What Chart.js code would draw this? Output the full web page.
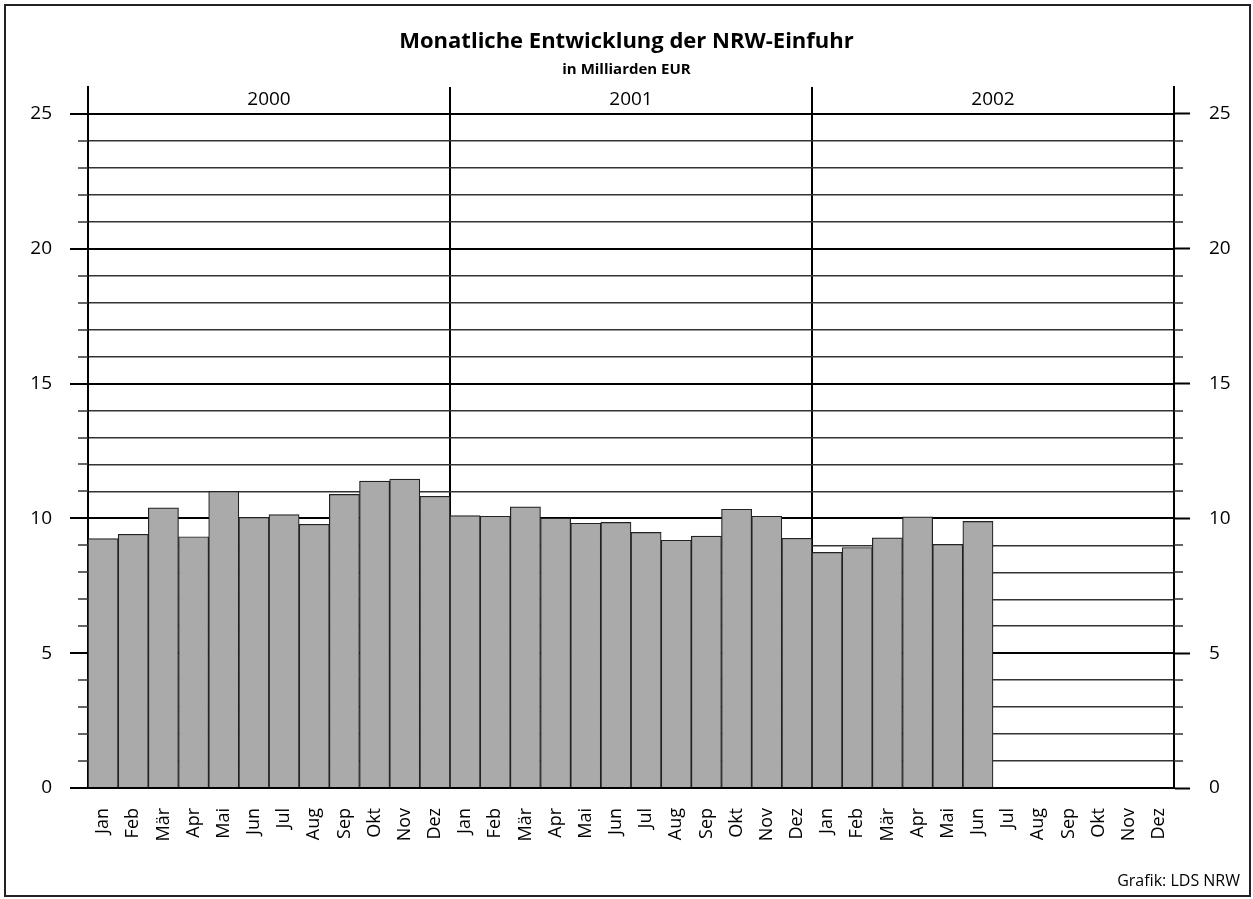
<!DOCTYPE html>
<html>
<head>
<meta charset="utf-8">
<script src="https://cdn.jsdelivr.net/npm/chart.js@4/dist/chart.umd.min.js"></script>
<style>
  html, body { margin: 0; padding: 0; background: #fff; }
  #wrap { position: relative; width: 1253px; height: 899px; }
</style>
</head>
<body>
<div id="wrap"><canvas id="barChart"></canvas></div>
<script>
// data
var months = ["Jan", "Feb", "Mär", "Apr", "Mai", "Jun", "Jul", "Aug", "Sep", "Okt", "Nov", "Dez"];
var years = ["2000", "2001", "2002"];
var values2000 = [9.25, 9.41, 10.39, 9.32, 11.0, 10.04, 10.14, 9.78, 10.89, 11.38, 11.46, 10.82];
var values2001 = [10.1, 10.08, 10.43, 10.01, 9.82, 9.85, 9.48, 9.19, 9.34, 10.34, 10.08, 9.26];
var values2002 = [8.74, 8.92, 9.28, 10.06, 9.04, 9.89, null, null, null, null, null, null];
var yTicks = [0, 5, 10, 15, 20, 25];

var labels = months.concat(months, months);
var values = values2000.concat(values2001, values2002);
var FONT = "'Open Sans', 'DejaVu Sans', sans-serif";

function isMajor(v) { return yTicks.indexOf(v) !== -1; }

var decor = {
  id: 'decor',
  beforeDraw: function (chart) {
    var c = chart.ctx;
    c.save();
    c.fillStyle = '#fff';
    c.fillRect(0, 0, chart.width, chart.height);
    c.restore();
  },
  afterDraw: function (chart) {
    var c = chart.ctx, x = chart.scales.x, y = chart.scales.y, a = chart.chartArea;
    c.save();
    // minor tick stubs
    c.strokeStyle = '#333';
    c.lineWidth = 1.5;
    for (var v = 1; v < 25; v++) {
      if (isMajor(v)) continue;
      var py = Math.round(y.getPixelForValue(v));
      c.beginPath();
      c.moveTo(a.left - 10, py); c.lineTo(a.left, py);
      c.moveTo(a.right, py); c.lineTo(a.right + 9, py);
      c.stroke();
    }
    // year labels
    c.fillStyle = '#000';
    c.font = '19px ' + FONT;
    c.textAlign = 'center';
    c.textBaseline = 'middle';
    years.forEach(function (yr, k) {
      var cx = (x.getPixelForValue(k * 12) + x.getPixelForValue(k * 12 + 11)) / 2;
      c.fillText(yr, cx, 100);
    });
    // source
    c.font = '16px ' + FONT;
    c.textAlign = 'right';
    c.fillText('Grafik: LDS NRW', 1240, 881);
    // frame
    c.strokeStyle = '#222';
    c.lineWidth = 2;
    c.strokeRect(5, 5, 1245, 891);
    c.restore();
  }
};

var ctx = document.getElementById('barChart').getContext('2d');
var myBarChart = new Chart(ctx, {
  type: 'bar',
  data: {
    labels: labels,
    datasets: [{
      data: values,
      backgroundColor: '#aaaaaa',
      borderColor: '#222222',
      borderWidth: 1.2,
      barPercentage: 1,
      categoryPercentage: 1
    }]
  },
  options: {
    responsive: true,
    maintainAspectRatio: false,
    animation: false,
    layout: { padding: 0 },
    plugins: {
      legend: { display: false },
      tooltip: { enabled: false },
      title: {
        display: true,
        text: 'Monatliche Entwicklung der NRW-Einfuhr',
        color: '#000',
        font: { family: FONT, size: 22, weight: 'bold', lineHeight: 1.2 },
        padding: { top: 29, bottom: 0 }
      },
      subtitle: {
        display: true,
        text: 'in Milliarden EUR',
        color: '#000',
        font: { family: FONT, size: 15, weight: 'bold', lineHeight: 1.2 },
        padding: { top: 5, bottom: 8.6 }
      }
    },
    scales: {
      x: {
        offset: true,
        afterFit: function (s) { s.height = 111; },
        border: { display: true, color: '#000', width: 2 },
        grid: {
          offset: true,
          drawTicks: false,
          color: function (c) {
            return (c.index === undefined || c.index % 12 === 0) ? '#000' : 'rgba(0,0,0,0)';
          },
          lineWidth: 2
        },
        ticks: {
          color: '#000',
          font: { family: FONT, size: 18 },
          minRotation: 90,
          maxRotation: 90,
          autoSkip: false,
          padding: 20
        }
      },
      y: {
        position: 'left',
        min: 0,
        max: 26,
        afterFit: function (s) { s.width = 88; },
        border: { display: true, color: '#000', width: 2 },
        grid: {
          tickLength: 18,
          tickWidth: 2,
          tickColor: function (c) { return isMajor(c.tick.value) ? '#000' : 'rgba(0,0,0,0)'; },
          color: function (c) {
            if (c.tick.value >= 26) return 'rgba(0,0,0,0)';
            return isMajor(c.tick.value) ? '#000' : '#333333';
          },
          lineWidth: function (c) { return isMajor(c.tick.value) ? 2 : 1.5; }
        },
        ticks: {
          stepSize: 1,
          autoSkip: false,
          padding: 18,
          color: '#000',
          font: { family: FONT, size: 19 },
          callback: function (v) { return isMajor(v) ? v : ''; }
        }
      },
      y2: {
        position: 'right',
        min: 0,
        max: 26,
        afterFit: function (s) { s.width = 79; },
        border: { display: true, color: '#000', width: 2 },
        grid: {
          drawOnChartArea: false,
          tickLength: 16,
          tickWidth: 2,
          tickColor: function (c) { return isMajor(c.tick.value) ? '#000' : 'rgba(0,0,0,0)'; }
        },
        ticks: {
          stepSize: 1,
          autoSkip: false,
          padding: 19,
          color: '#000',
          font: { family: FONT, size: 19 },
          callback: function (v) { return isMajor(v) ? v : ''; }
        }
      }
    }
  },
  plugins: [decor]
});
</script>
</body>
</html>
